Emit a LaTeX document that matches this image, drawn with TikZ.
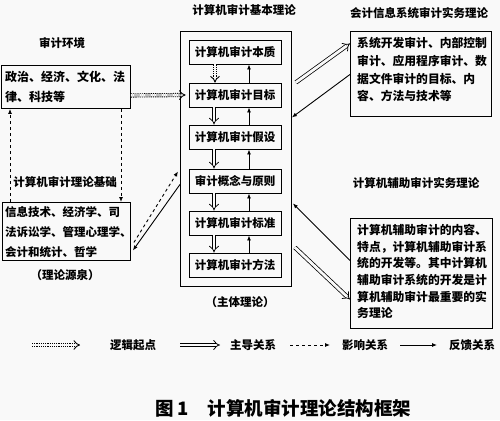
\documentclass[tikz,border=0pt]{standalone}
\usepackage{fontspec}
\setmainfont{Noto Sans CJK SC}
\usetikzlibrary{arrows.meta,calc}
\definecolor{paper}{gray}{0.975}
\begin{document}
\begin{tikzpicture}[x=1pt,y=-1pt,
  box/.style={draw, line width=0.9pt, inner sep=0pt, anchor=north west},
  inbox/.style={draw, line width=0.9pt, minimum width=92pt, minimum height=24pt, inner sep=0pt, font=\fontsize{11.5}{13}\selectfont\bfseries},
  txt/.style={inner sep=0pt, align=left, anchor=north west},
  lbl/.style={inner sep=0pt, font=\fontsize{11.5}{13}\selectfont\bfseries},
  hollow/.style={draw=black, double=paper, double distance=2.8pt, line width=0.75pt, -{Implies}},
  dotdouble/.style={draw=black, double=paper, double distance=2.4pt, line width=0.9pt, dash pattern=on 1.2pt off 1pt, -{Implies}},
  infl/.style={dashed, line width=0.9pt, -{Latex[length=5pt,width=4pt]}},
  fb/.style={line width=0.9pt, -{Latex[length=5pt,width=4pt]}},
]
\fill[paper] (0,0) rectangle (500,420);
\useasboundingbox (0,0) rectangle (500,420);

% main theory
\node[lbl] (tmain) at (244,10) {计算机审计基本理论};
\node[box, minimum width=111pt, minimum height=255pt] (main) at (180,31) {};
\node[inbox] (b1) at (235,52) {计算机审计本质};
\node[inbox] (b2) at (235,95) {计算机审计目标};
\node[inbox] (b3) at (235,137) {计算机审计假设};
\node[inbox] (b4) at (235,181) {审计概念与原则};
\node[inbox] (b5) at (235,223) {计算机审计标准};
\node[inbox] (b6) at (235,265) {计算机审计方法};
\node[lbl] (tsub) at (240,302) {（主体理论）};

\draw[dotdouble] ($(b1.south)+(-20,0)$) -- ($(b2.north)+(-20,0)$);
\foreach \a/\b in {b2/b3,b3/b4,b4/b5,b5/b6}{
  \draw[hollow] ($(\a.south)+(-21,0)$) -- ($(\b.north)+(-21,0)$);
}
\foreach \a/\b in {b2/b1,b3/b2,b4/b3,b5/b4,b6/b5}{
  \draw[fb] ($(\a.north)+(14,0)$) -- ($(\b.south)+(14,0)$);
}

% environment
\node[lbl] (tenv) at (62,43) {审计环境};
\node[box, minimum width=129pt, minimum height=43pt] (env) at (1,65) {};
\node[txt, font=\fontsize{12}{20}\selectfont\bfseries] (envt) at (5,71) {政治、经济、文化、法\\律、科技等};

% theory base
\node[lbl] (tbase) at (65,182) {计算机审计理论基础};
\node[box, minimum width=128pt, minimum height=58pt] (base) at (2,202) {};
\node[txt, font=\fontsize{11.5}{20}\selectfont\bfseries] (baset) at (5,206) {信息技术、经济学、司\\法诉讼学、管理心理学、\\会计和统计、哲学};
\node[lbl] (tsrc) at (65,275) {（理论源泉）};

\draw[dotdouble] ($(env.east)+(0,8.5)$) -- ($(b2.west)+(-3,0)$);
\draw[infl] ($(base.north west)+(8,0)$) -- ($(env.south west)+(9,0)$);
\draw[infl] ($(env.south west)+(120,0)$) -- ($(base.north west)+(119,0)$);
\draw[infl] ($(base.east)+(3,11)$) -- ($(main.west)+(-2,12.5)$);
\draw[fb] ($(main.west)+(0,25.5)$) -- ($(base.east)+(2,19)$);

% info system audit
\node[lbl] (tinfo) at (419,13) {会计信息系统审计实务理论};
\node[box, minimum width=141pt, minimum height=85pt] (info) at (350,31) {};
\node[txt, font=\fontsize{11.8}{17.8}\selectfont\bfseries] (infot) at (357,37) {系统开发审计、内部控制\\审计、应用程序审计、数\\据文件审计的目标、内\\容、方法与技术等};
\draw[hollow] ($(main.east)+(4,-76.5)$) -- ($(info.west)+(0,-30.5)$);
\draw[fb] ($(info.west)+(0,0.5)$) -- ($(main.east)+(0,-41.5)$);

% computer aided audit
\node[lbl] (tcaa) at (416,183) {计算机辅助审计实务理论};
\node[box, minimum width=142pt, minimum height=110pt] (caa) at (350,218) {};
\node[txt, font=\fontsize{11.8}{16.7}\selectfont\bfseries] (caat) at (357,224) {计算机辅助审计的内容、\\特点，计算机辅助审计系\\统的开发等。其中计算机\\辅助审计系统的开发是计\\算机辅助审计最重要的实\\务理论};
\draw[fb] ($(caa.west)+(0,-13)$) -- ($(main.east)+(1,44.5)$);
\draw[hollow] ($(main.east)+(3,88.5)$) -- ($(caa.west)+(0,26)$);

% legend
\coordinate (l1a) at (32,345); \coordinate (l1b) at (80,345);
\coordinate (l2a) at (180,345); \coordinate (l2b) at (220,345);
\coordinate (l3a) at (290,345); \coordinate (l3b) at (330,345);
\coordinate (l4a) at (400,345); \coordinate (l4b) at (437,345);
\draw[dotdouble] (l1a) -- (l1b);
\node[lbl] (lg1) at (133,345) {逻辑起点};
\draw[hollow] (l2a) -- (l2b);
\node[lbl] (lg2) at (253,345) {主导关系};
\draw[infl] (l3a) -- (l3b);
\node[lbl] (lg3) at (365,345) {影响关系};
\draw[fb] (l4a) -- (l4b);
\node[lbl] (lg4) at (472,345) {反馈关系};

% caption
\node[inner sep=0pt, font=\fontsize{18.5}{20}\selectfont\bfseries] (cap) at (283,408) {图 1\quad 计算机审计理论结构框架};
\end{tikzpicture}
\end{document}
